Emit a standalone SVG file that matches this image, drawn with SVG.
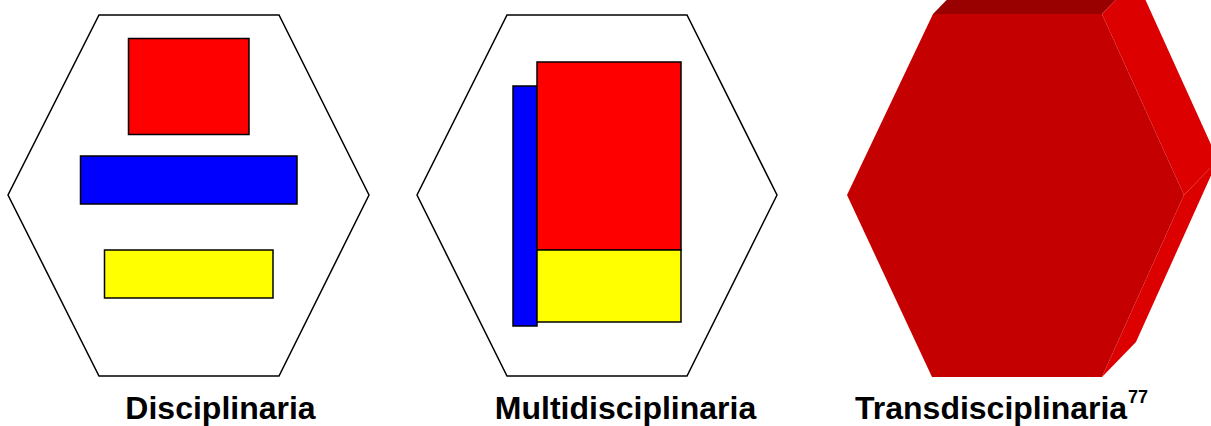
<svg xmlns="http://www.w3.org/2000/svg" width="1211" height="426" viewBox="0 0 1211 426">
<style>
.hex{fill:#fff;stroke:#000;stroke-width:1.5}
.box{stroke:#000;stroke-width:1.5}
.lbl{font-family:"Liberation Sans",Arial,sans-serif;font-weight:bold;font-size:32px;fill:#000}
.sup{font-family:"Liberation Sans",Arial,sans-serif;font-weight:bold;font-size:18px;fill:#000}
</style>
<rect width="1211" height="426" fill="#fff"/>
<g id="disciplinaria">
<polygon class="hex" points="99,15 279,15 369,195 279,376 99,376 8,195"/>
<rect class="box" x="128.5" y="38.5" width="120.5" height="96" fill="#ff0000"/>
<rect class="box" x="80.5" y="156" width="216.5" height="48" fill="#0000ff"/>
<rect class="box" x="104.5" y="250" width="168.5" height="48" fill="#ffff00"/>
<text class="lbl" x="220.5" y="419" text-anchor="middle">Disciplinaria</text>
</g>
<g id="multidisciplinaria">
<polygon class="hex" points="507,15 687,15 777,195 687,376 507,376 417,195"/>
<rect class="box" x="513" y="86" width="24" height="240" fill="#0000ff"/>
<rect class="box" x="537" y="62" width="144" height="188" fill="#ff0000"/>
<rect class="box" x="537" y="250" width="144" height="72" fill="#ffff00"/>
<text class="lbl" x="625.5" y="419" text-anchor="middle">Multidisciplinaria</text>
</g>
<g id="transdisciplinaria">
<polygon fill="#990000" points="933,14 1102,14 1136,-21 967,-21"/>
<polygon fill="#dd0000" points="1102,14 1184,195 1218,160 1136,-21"/>
<polygon fill="#dd0000" points="1184,195 1102,377 1136,342 1218,160"/>
<polygon fill="#c40000" points="933,14 1102,14 1184,195 1102,377 932,377 847,195"/>
<text class="lbl" x="855" y="419">Transdisciplinaria<tspan class="sup" dx="1" dy="-16">77</tspan></text>
</g>
</svg>
